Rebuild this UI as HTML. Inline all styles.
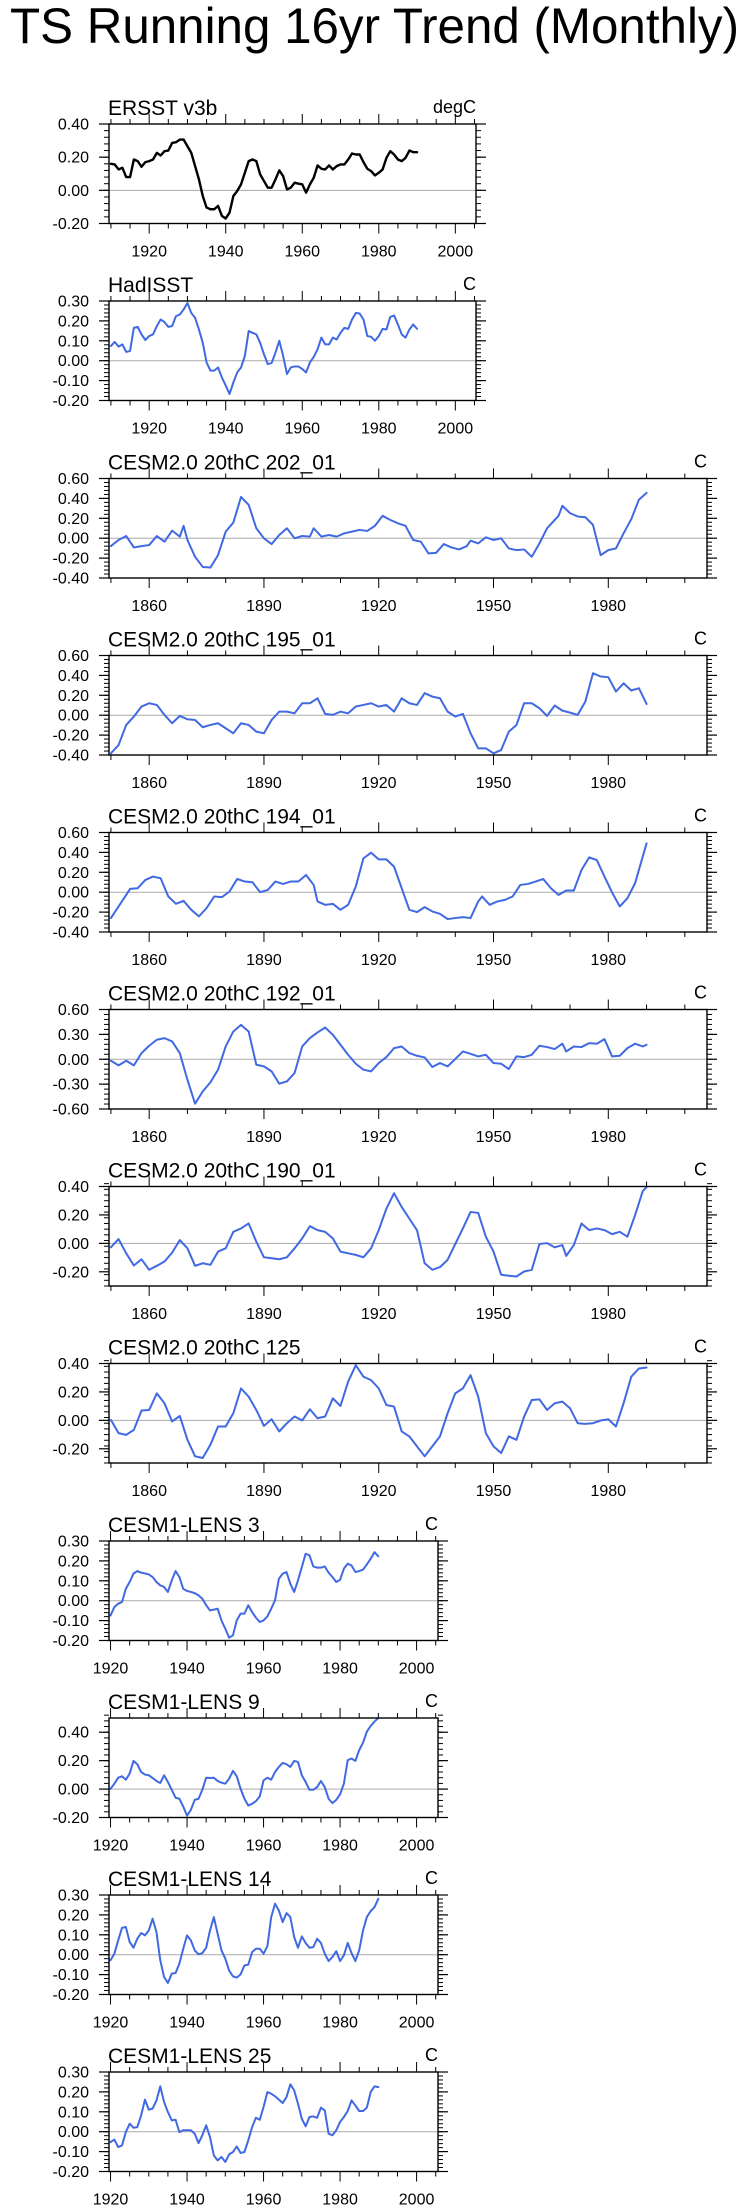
<!DOCTYPE html>
<html><head><meta charset="utf-8"><title>TS Running 16yr Trend (Monthly)</title>
<style>
html,body{margin:0;padding:0;background:#fff;}
svg{display:block;font-family:"Liberation Sans",Arial,sans-serif;}
</style></head>
<body>
<svg id="chart" width="746" height="2211" viewBox="0 0 746 2211" xmlns="http://www.w3.org/2000/svg">
<rect width="746" height="2211" fill="#fff"/>
<text x="10" y="43" font-size="50" textLength="729" lengthAdjust="spacingAndGlyphs" fill="#000">TS Running 16yr Trend (Monthly)</text>
</svg>
<script>
// ---------- data ----------
const ersstYears = [];
for (let y = 1910; y <= 1990; y++) ersstYears.push(y);
const ersstValues = [0.16,0.156,0.126,0.136,0.08,0.08,0.186,0.176,0.142,0.17,0.176,0.186,0.226,0.21,0.236,0.24,0.286,0.29,0.306,0.306,0.266,0.226,0.146,0.066,-0.034,-0.104,-0.114,-0.114,-0.094,-0.154,-0.17,-0.134,-0.034,-0.004,0.036,0.106,0.176,0.186,0.176,0.096,0.056,0.016,0.016,0.066,0.12,0.086,0.006,0.016,0.046,0.04,0.036,-0.014,0.036,0.076,0.15,0.13,0.126,0.15,0.126,0.146,0.156,0.156,0.186,0.222,0.216,0.216,0.17,0.13,0.116,0.09,0.106,0.126,0.196,0.236,0.216,0.186,0.176,0.196,0.24,0.23,0.23];

const hadYears = [];
for (let y = 1910; y <= 1990; y++) hadYears.push(y);
const hadValues = [0.074,0.094,0.071,0.082,0.044,0.049,0.165,0.17,0.132,0.104,0.124,0.132,0.174,0.207,0.194,0.17,0.174,0.224,0.232,0.257,0.29,0.24,0.215,0.157,0.09,-0.009,-0.05,-0.05,-0.034,-0.084,-0.125,-0.167,-0.109,-0.059,-0.034,0.024,0.149,0.14,0.132,0.09,0.032,-0.017,-0.012,0.041,0.1,0.024,-0.067,-0.034,-0.029,-0.029,-0.042,-0.059,-0.009,0.019,0.057,0.116,0.082,0.082,0.116,0.107,0.14,0.165,0.16,0.207,0.24,0.237,0.207,0.124,0.12,0.1,0.124,0.16,0.157,0.22,0.227,0.182,0.132,0.116,0.157,0.182,0.16];

const c202Years = [1850,1852,1854,1856,1858,1860,1862,1864,1866,1868,1869,1870,1872,1874,1876,1878,1880,1882,1884,1886,1888,1890,1892,1894,1896,1898,1900,1902,1903,1905,1907,1909,1911,1913,1915,1917,1919,1921,1923,1925,1927,1929,1931,1933,1935,1937,1939,1941,1943,1944,1946,1948,1950,1952,1954,1956,1958,1960,1962,1964,1966,1967,1968,1970,1972,1974,1976,1977,1978,1980,1982,1984,1986,1988,1990];
const c202Values = [-0.079,-0.018,0.022,-0.093,-0.08,-0.069,0.022,-0.035,0.076,0.016,0.124,-0.018,-0.187,-0.289,-0.295,-0.17,0.066,0.157,0.414,0.336,0.1,-0.001,-0.059,0.032,0.1,-0.001,0.022,0.016,0.1,0.016,0.032,0.016,0.049,0.066,0.083,0.073,0.124,0.225,0.184,0.15,0.124,-0.018,-0.035,-0.153,-0.147,-0.059,-0.093,-0.113,-0.08,-0.025,-0.052,0.009,-0.018,-0.001,-0.103,-0.12,-0.113,-0.187,-0.052,0.1,0.184,0.225,0.326,0.252,0.218,0.211,0.134,-0.018,-0.17,-0.12,-0.103,0.049,0.191,0.387,0.455];

const c195Years = [1850,1852,1854,1856,1858,1860,1862,1864,1866,1868,1870,1872,1874,1876,1878,1880,1882,1884,1886,1888,1890,1892,1894,1896,1898,1900,1902,1904,1906,1908,1910,1912,1914,1916,1918,1920,1922,1924,1926,1928,1930,1932,1934,1936,1938,1940,1942,1944,1946,1948,1950,1952,1954,1956,1958,1960,1962,1964,1966,1968,1970,1972,1974,1976,1978,1980,1982,1984,1986,1988,1990];
const c195Values = [-0.383,-0.3,-0.098,-0.014,0.087,0.12,0.103,0.003,-0.081,-0.007,-0.041,-0.048,-0.121,-0.098,-0.081,-0.131,-0.182,-0.081,-0.098,-0.165,-0.182,-0.048,0.036,0.036,0.019,0.12,0.12,0.17,0.013,0.003,0.036,0.019,0.087,0.103,0.12,0.087,0.103,0.036,0.17,0.12,0.103,0.221,0.187,0.17,0.036,-0.014,0.013,-0.182,-0.333,-0.333,-0.383,-0.35,-0.165,-0.098,0.12,0.12,0.07,-0.007,0.097,0.046,0.026,0.003,0.137,0.422,0.389,0.382,0.238,0.321,0.248,0.271,0.113];

const c194Years = [1850,1852,1854,1855,1857,1859,1861,1863,1865,1867,1869,1871,1873,1875,1877,1879,1881,1883,1885,1887,1889,1891,1893,1895,1897,1899,1901,1903,1904,1906,1908,1910,1912,1914,1916,1918,1920,1922,1924,1926,1928,1930,1932,1934,1936,1938,1940,1942,1944,1946,1947,1949,1951,1953,1955,1957,1959,1961,1963,1965,1967,1969,1971,1973,1975,1977,1979,1981,1983,1985,1987,1990];
const c194Values = [-0.26,-0.143,-0.027,0.033,0.04,0.123,0.157,0.14,-0.043,-0.117,-0.087,-0.177,-0.243,-0.16,-0.043,-0.05,0.007,0.133,0.107,0.1,0.0,0.023,0.107,0.083,0.107,0.107,0.173,0.073,-0.093,-0.127,-0.117,-0.177,-0.127,0.057,0.34,0.397,0.33,0.33,0.257,0.04,-0.177,-0.2,-0.15,-0.193,-0.217,-0.27,-0.26,-0.25,-0.26,-0.093,-0.043,-0.127,-0.093,-0.077,-0.043,0.073,0.083,0.107,0.133,0.04,-0.027,0.017,0.017,0.223,0.35,0.323,0.157,-0.003,-0.143,-0.06,0.09,0.49];

const c192Years = [1850,1852,1854,1856,1858,1860,1862,1864,1866,1868,1870,1872,1874,1876,1878,1880,1882,1884,1886,1888,1890,1892,1894,1896,1898,1900,1902,1904,1906,1908,1910,1912,1914,1916,1918,1920,1922,1924,1926,1928,1930,1932,1934,1936,1938,1940,1942,1944,1946,1948,1950,1952,1954,1956,1958,1960,1962,1964,1966,1968,1969,1971,1973,1975,1977,1979,1981,1983,1985,1987,1989,1990];
const c192Values = [-0.018,-0.074,-0.018,-0.074,0.074,0.163,0.235,0.255,0.215,0.074,-0.247,-0.536,-0.387,-0.279,-0.126,0.154,0.335,0.415,0.335,-0.066,-0.086,-0.146,-0.295,-0.267,-0.167,0.154,0.255,0.323,0.383,0.295,0.175,0.054,-0.054,-0.126,-0.146,-0.046,0.026,0.134,0.154,0.074,0.042,0.022,-0.094,-0.046,-0.086,0.002,0.094,0.066,0.034,0.054,-0.046,-0.054,-0.118,0.034,0.026,0.054,0.163,0.147,0.123,0.187,0.094,0.154,0.147,0.195,0.187,0.243,0.034,0.042,0.134,0.187,0.154,0.175];

const c190Years = [1850,1852,1854,1856,1858,1860,1862,1864,1866,1868,1870,1872,1874,1876,1878,1880,1882,1884,1886,1888,1890,1892,1894,1896,1898,1900,1902,1904,1906,1908,1910,1912,1914,1916,1918,1920,1922,1924,1926,1928,1930,1932,1934,1936,1938,1940,1942,1944,1946,1948,1950,1952,1954,1956,1958,1960,1962,1964,1966,1968,1969,1971,1973,1975,1977,1979,1981,1983,1985,1987,1989,1990];
const c190Values = [-0.028,0.03,-0.07,-0.156,-0.112,-0.186,-0.158,-0.128,-0.065,0.023,-0.035,-0.158,-0.14,-0.151,-0.058,-0.035,0.081,0.105,0.14,0.012,-0.098,-0.105,-0.112,-0.098,-0.035,0.035,0.121,0.093,0.081,0.035,-0.058,-0.07,-0.081,-0.098,-0.035,0.093,0.244,0.353,0.256,0.174,0.093,-0.14,-0.186,-0.167,-0.116,-0.005,0.105,0.221,0.214,0.047,-0.058,-0.221,-0.228,-0.233,-0.198,-0.186,-0.005,0.002,-0.028,-0.012,-0.088,-0.012,0.14,0.093,0.105,0.093,0.065,0.081,0.047,0.198,0.367,0.395];

const c125Years = [1850,1852,1854,1856,1858,1860,1862,1864,1866,1868,1870,1872,1874,1876,1878,1880,1882,1884,1886,1888,1890,1892,1894,1896,1898,1900,1902,1904,1906,1908,1910,1912,1914,1916,1918,1920,1922,1924,1926,1928,1930,1932,1934,1936,1938,1940,1942,1944,1946,1948,1950,1952,1954,1956,1958,1960,1962,1964,1966,1968,1970,1972,1974,1976,1978,1980,1982,1984,1986,1988,1990];
const c125Values = [0.003,-0.09,-0.102,-0.067,0.069,0.073,0.19,0.12,-0.008,0.031,-0.137,-0.253,-0.265,-0.172,-0.043,-0.043,0.05,0.225,0.167,0.073,-0.039,0.008,-0.078,-0.02,0.027,-0.001,0.078,0.015,0.027,0.155,0.101,0.272,0.388,0.307,0.283,0.225,0.108,0.097,-0.078,-0.113,-0.183,-0.253,-0.183,-0.113,0.05,0.19,0.225,0.318,0.167,-0.09,-0.183,-0.23,-0.113,-0.137,0.027,0.143,0.148,0.073,0.12,0.132,0.085,-0.02,-0.025,-0.02,-0.001,0.008,-0.043,0.12,0.307,0.365,0.372];

const lensYears = [];
for (let y = 1920; y <= 1990; y++) lensYears.push(y);
const lens3Values = [-0.074,-0.032,-0.015,-0.007,0.06,0.094,0.136,0.149,0.141,0.137,0.132,0.119,0.094,0.077,0.069,0.044,0.102,0.149,0.119,0.06,0.049,0.044,0.038,0.027,0.01,-0.023,-0.049,-0.045,-0.04,-0.099,-0.141,-0.186,-0.174,-0.099,-0.065,-0.065,-0.023,-0.057,-0.085,-0.107,-0.099,-0.079,-0.04,0.002,0.11,0.136,0.144,0.085,0.044,0.102,0.169,0.236,0.228,0.172,0.166,0.166,0.172,0.141,0.119,0.094,0.105,0.161,0.186,0.177,0.144,0.149,0.156,0.182,0.211,0.244,0.223];
const lens9Values = [0.002,0.038,0.08,0.09,0.066,0.109,0.198,0.175,0.12,0.102,0.097,0.078,0.057,0.043,0.097,0.05,-0.005,-0.061,-0.068,-0.123,-0.187,-0.146,-0.076,-0.068,-0.005,0.08,0.078,0.08,0.057,0.045,0.038,0.073,0.128,0.09,0.002,-0.068,-0.116,-0.104,-0.085,-0.052,0.061,0.08,0.066,0.12,0.156,0.184,0.175,0.156,0.198,0.191,0.097,0.05,-0.005,-0.005,0.014,0.057,0.014,-0.068,-0.099,-0.076,-0.038,0.038,0.203,0.215,0.198,0.274,0.326,0.404,0.444,0.475,0.5];
const lens14Values = [-0.028,0.005,0.072,0.135,0.139,0.064,0.035,0.08,0.109,0.097,0.122,0.181,0.114,-0.028,-0.112,-0.142,-0.095,-0.092,-0.045,0.03,0.097,0.072,0.022,0.002,0.008,0.035,0.122,0.189,0.105,0.022,-0.02,-0.079,-0.109,-0.115,-0.099,-0.054,-0.05,0.013,0.03,0.03,0.005,0.042,0.189,0.256,0.222,0.164,0.209,0.189,0.089,0.035,0.092,0.059,0.035,0.038,0.08,0.059,0.005,-0.032,-0.012,0.018,-0.032,-0.003,0.059,0.008,-0.032,0.022,0.122,0.189,0.219,0.239,0.281];
const lens25Values = [-0.052,-0.04,-0.077,-0.069,-0.002,0.04,0.02,0.023,0.082,0.161,0.111,0.116,0.157,0.228,0.149,0.099,0.057,0.06,-0.002,0.007,0.007,0.007,-0.01,-0.057,-0.018,0.032,-0.027,-0.119,-0.144,-0.127,-0.152,-0.114,-0.102,-0.074,-0.107,-0.102,-0.044,0.023,0.07,0.06,0.124,0.199,0.191,0.178,0.161,0.144,0.174,0.238,0.208,0.141,0.065,0.027,0.074,0.077,0.07,0.121,0.107,-0.01,-0.018,0.007,0.049,0.074,0.104,0.157,0.132,0.104,0.104,0.121,0.199,0.228,0.224];

// ---------- tick labels ----------
const narrowXTicks = [1920, 1940, 1960, 1980, 2000];
const wideXTicks = [1860, 1890, 1920, 1950, 1980];
const ticks04 = [-0.2, 0.0, 0.2, 0.4];
const ticks03 = [-0.2, -0.1, 0.0, 0.1, 0.2, 0.3];
const ticks06 = [-0.4, -0.2, 0.0, 0.2, 0.4, 0.6];
const ticks06b = [-0.6, -0.3, 0.0, 0.3, 0.6];
const ticks0405 = [-0.2, 0.0, 0.2, 0.4];
const ticks0304 = [-0.2, 0.0, 0.2, 0.4];

const BLUE = '#4169e1';
const panels = [
  {id:'ersst', title:'ERSST v3b', unit:'degC', top:124, right:476, xmin:1909.5, xmax:2005.4, ymin:-0.2, ymax:0.4, yticks:ticks04, yminor:0.04, xt:narrowXTicks, xminor:5, years:ersstYears, vals:ersstValues, color:'#000', lw:2.4},
  {id:'hadisst', title:'HadISST', unit:'C', top:301, right:476, xmin:1909.5, xmax:2005.4, ymin:-0.2, ymax:0.3, yticks:ticks03, yminor:0.02, xt:narrowXTicks, xminor:5, years:hadYears, vals:hadValues, color:BLUE, lw:2},
  {id:'cesm2-202', title:'CESM2.0 20thC 202_01', unit:'C', top:478.5, right:707, xmin:1849.5, xmax:2005.8, ymin:-0.4, ymax:0.6, yticks:ticks06, yminor:0.04, xt:wideXTicks, xminor:10, years:c202Years, vals:c202Values, color:BLUE, lw:2},
  {id:'cesm2-195', title:'CESM2.0 20thC 195_01', unit:'C', top:655.5, right:707, xmin:1849.5, xmax:2005.8, ymin:-0.4, ymax:0.6, yticks:ticks06, yminor:0.04, xt:wideXTicks, xminor:10, years:c195Years, vals:c195Values, color:BLUE, lw:2},
  {id:'cesm2-194', title:'CESM2.0 20thC 194_01', unit:'C', top:832.5, right:707, xmin:1849.5, xmax:2005.8, ymin:-0.4, ymax:0.6, yticks:ticks06, yminor:0.04, xt:wideXTicks, xminor:10, years:c194Years, vals:c194Values, color:BLUE, lw:2},
  {id:'cesm2-192', title:'CESM2.0 20thC 192_01', unit:'C', top:1009.5, right:707, xmin:1849.5, xmax:2005.8, ymin:-0.6, ymax:0.6, yticks:ticks06b, yminor:0.06, xt:wideXTicks, xminor:10, years:c192Years, vals:c192Values, color:BLUE, lw:2},
  {id:'cesm2-190', title:'CESM2.0 20thC 190_01', unit:'C', top:1186.5, right:707, xmin:1849.5, xmax:2005.8, ymin:-0.3, ymax:0.4, yticks:ticks0304, yminor:0.04, xt:wideXTicks, xminor:10, years:c190Years, vals:c190Values, color:BLUE, lw:2},
  {id:'cesm2-125', title:'CESM2.0 20thC 125', unit:'C', top:1363.5, right:707, xmin:1849.5, xmax:2005.8, ymin:-0.3, ymax:0.4, yticks:ticks0304, yminor:0.04, xt:wideXTicks, xminor:10, years:c125Years, vals:c125Values, color:BLUE, lw:2},
  {id:'lens-3', title:'CESM1-LENS 3', unit:'C', top:1541, right:438, xmin:1919.6, xmax:2005.6, ymin:-0.2, ymax:0.3, yticks:ticks03, yminor:0.02, xt:narrowXTicks, xminor:5, years:lensYears, vals:lens3Values, color:BLUE, lw:2},
  {id:'lens-9', title:'CESM1-LENS 9', unit:'C', top:1718, right:438, xmin:1919.6, xmax:2005.6, ymin:-0.2, ymax:0.5, yticks:ticks0405, yminor:0.04, xt:narrowXTicks, xminor:5, years:lensYears, vals:lens9Values, color:BLUE, lw:2},
  {id:'lens-14', title:'CESM1-LENS 14', unit:'C', top:1895, right:438, xmin:1919.6, xmax:2005.6, ymin:-0.2, ymax:0.3, yticks:ticks03, yminor:0.02, xt:narrowXTicks, xminor:5, years:lensYears, vals:lens14Values, color:BLUE, lw:2},
  {id:'lens-25', title:'CESM1-LENS 25', unit:'C', top:2072, right:438, xmin:1919.6, xmax:2005.6, ymin:-0.2, ymax:0.3, yticks:ticks03, yminor:0.02, xt:narrowXTicks, xminor:5, years:lensYears, vals:lens25Values, color:BLUE, lw:2}
];

const NS = 'http://www.w3.org/2000/svg';
const svg = document.getElementById('chart');
function mk(tag, attrs, parent) {
  const el = document.createElementNS(NS, tag);
  for (const k in attrs) el.setAttribute(k, attrs[k]);
  parent.appendChild(el);
  return el;
}
function line(x1, y1, x2, y2, w, parent) {
  return mk('line', {x1:x1, y1:y1, x2:x2, y2:y2, stroke:'#000', 'stroke-width':w}, parent);
}

panels.forEach(function(p) {
  const L = 109, R = p.right, T = p.top, B = p.top + 99.5;
  const g = mk('g', {}, svg);
  
  
  const xs = function(v) { return L + (v - p.xmin) / (p.xmax - p.xmin) * (R - L); };
  const ys = function(v) { return B - (v - p.ymin) / (p.ymax - p.ymin) * (B - T); };

  // title & unit
  const t = mk('text', {x:108, y:T - 9, 'font-size':21, fill:'#000'}, g);
  
  
  t.textContent = p.title;
  const u = mk('text', {x:R, y:T - 11, 'font-size':18, fill:'#000', 'text-anchor':'end'}, g);
  
  
  u.textContent = p.unit;

  // zero line
  const z = mk('line', {x1:L, x2:R, y1:ys(0), y2:ys(0), stroke:'#aaa', 'stroke-width':1}, g);
  
  

  // x ticks
  const xa = mk('g', {}, g);
  
  
  const xstart = Math.ceil(p.xmin / p.xminor) * p.xminor;
  for (let v = xstart; v <= p.xmax + 1e-6; v += p.xminor) {
    const x = xs(v);
    const major = p.xt.indexOf(v) >= 0;
    const len = major ? 10 : 5;
    line(x, B, x, B + len, 1, xa);
    line(x, T, x, T - len, 1, xa);
  }
  p.xt.forEach(function(v) {
    if (v < p.xmin || v > p.xmax) return;
    const lab = mk('text', {x:xs(v), y:B + 33, 'font-size':16, 'text-anchor':'middle', fill:'#000'}, xa);
    
    
    lab.textContent = String(v);
  });

  // y ticks
  const ya = mk('g', {}, g);
  
  
  const nMinor = Math.round((p.ymax - p.ymin) / p.yminor);
  for (let i = 0; i <= nMinor; i++) {
    const v = p.ymin + i * p.yminor;
    const y = ys(v);
    line(L, y, L - 5, y, 1, ya);
    line(R, y, R + 5, y, 1, ya);
  }
  p.yticks.forEach(function(v) {
    const y = ys(v);
    line(L, y, L - 10, y, 1.2, ya);
    line(R, y, R + 10, y, 1.2, ya);
    const lab = mk('text', {x:89, y:y + 5.5, 'font-size':16, 'text-anchor':'end', fill:'#000'}, ya);
    
    
    lab.textContent = v.toFixed(2);
  });

  // data line
  let d = '';
  for (let i = 0; i < p.years.length; i++) {
    d += (i ? 'L' : 'M') + xs(p.years[i]).toFixed(2) + ',' + ys(p.vals[i]).toFixed(2);
  }
  const path = mk('path', {d:d, fill:'none', stroke:p.color, 'stroke-width':p.lw, 'stroke-linejoin':'round', 'stroke-linecap':'round'}, g);
  
  

  // frame
  const box = mk('rect', {x:L, y:T, width:R - L, height:B - T, fill:'none', stroke:'#000', 'stroke-width':1.4}, g);
  
  
});
</script>
</body></html>
